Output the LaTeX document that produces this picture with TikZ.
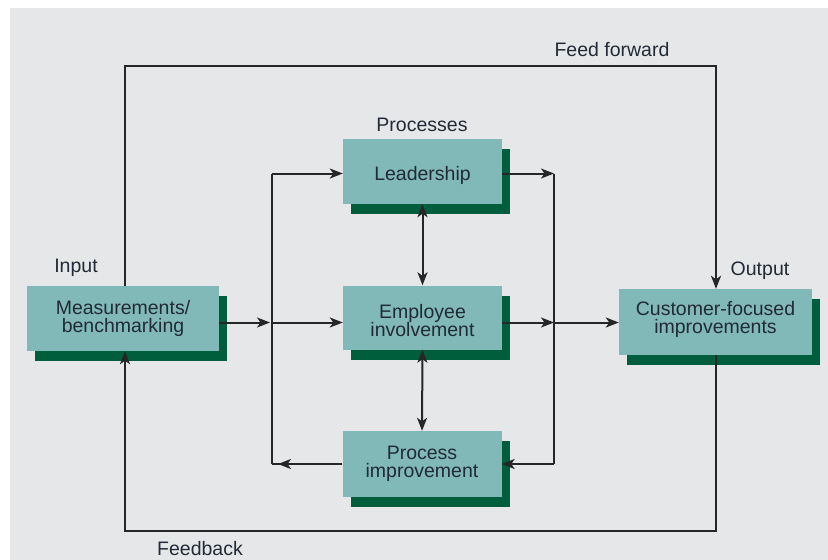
\documentclass[tikz,border=0pt]{standalone}
\usepackage{fontspec}
\setmainfont{Liberation Sans}
\usetikzlibrary{arrows.meta,shadows,calc}
\definecolor{bg}{HTML}{E6E7E9}
\definecolor{boxfill}{HTML}{80B9B7}
\definecolor{shade}{HTML}{005E3C}
\definecolor{txt}{HTML}{222A36}
\definecolor{ln}{HTML}{262626}
\begin{document}
\begin{tikzpicture}[x=1pt,y=-1pt,
  box/.style={fill=boxfill, inner sep=0pt,
    drop shadow={shadow xshift=8pt, shadow yshift=-10pt, fill=shade, opacity=1}},
  btext/.style={text=txt, align=center, inner sep=0pt,
    font=\fontsize{19.5}{18.5}\selectfont},
  lbl/.style={text=txt, font=\fontsize{19.5}{19}\selectfont, inner sep=0pt},
  conn/.style={draw=ln, line width=2pt},
  arr/.style={conn, -{Stealth[length=13pt,width=10pt,inset=3.5pt]}},
  darr/.style={conn, {Stealth[length=13pt,width=10pt,inset=3.5pt]}-{Stealth[length=13pt,width=10pt,inset=3.5pt]}}]
\useasboundingbox (0,0) rectangle (828,560);
\fill[bg] (10,8) rectangle (828,560);
% boxes
\node[box, minimum width=192pt, minimum height=65pt] (meas) at (123,318.5) {};
\node[box, minimum width=159pt, minimum height=65pt] (lead) at (422.5,171.5) {};
\node[box, minimum width=159pt, minimum height=64pt] (emp) at (422.5,317.5) {};
\node[box, minimum width=159pt, minimum height=66pt] (proc) at (422,464) {};
\node[box, minimum width=193pt, minimum height=66pt] (cust) at (715.5,322) {};
% box texts
\node[btext] (meast) at ([yshift=0pt]meas.center) {Measurements/\\benchmarking};
\node[btext] (leadt) at ([yshift=-3.5pt]lead.center) {Leadership};
\node[btext] (empt) at ([yshift=-3pt]emp.center) {Employee\\involvement};
\node[btext] (proct) at ([yshift=0pt]proc.center) {Process\\improvement};
\node[btext] (custt) at ([yshift=2.5pt]cust.center) {Customer-focused\\improvements};
% labels
\node[lbl] (input) at (76,268) {Input};
\node[lbl] (output) at (760,271) {Output};
\node[lbl] (procs) at (422,124.5) {Processes};
\node[lbl] (ff) at (612,49.5) {Feed forward};
\node[lbl] (fb) at (200,548.5) {Feedback};
% coordinates
\coordinate (lb1) at (272,173.5);
\coordinate (lb2) at (272,322.5);
\coordinate (lb3) at (272,464);
\coordinate (lbp) at (278,464);
\coordinate (rb1) at (554,173.5);
\coordinate (rb2) at (554,322.5);
\coordinate (rb3) at (554,464);
\coordinate (fft1) at (125,66);
\coordinate (fft2) at (716,66);
\coordinate (fbb1) at (716,531);
\coordinate (fbb2) at (125,531);
% connectors
\draw[conn] (lb1) -- (lb3);
\draw[conn] (rb1) -- (rb3);
\draw[arr] (lb1) -- (lb1 -| lead.west);
\draw[arr] (lead.east |- rb1) -- (rb1);
\draw[arr] (meas.east |- lb2) -- ([xshift=-2pt]lb2);
\draw[arr] (lb2) -- (lb2 -| emp.west);
\draw[arr] (emp.east |- rb2) -- (rb2);
\draw[arr] (rb2) -- (rb2 -| cust.west);
\draw[arr] (rb3) -- (rb3 -| proc.east);
\draw[conn] (proc.west |- lb3) -- (lb3);
\draw[arr] (proc.west |- lb3) -- (lbp);
\draw[darr] (lead.south) -- (emp.north);
\draw[darr] (emp.south) -- (proc.north);
\draw[arr] (meas.north -| fft1) -- (fft1) -- (fft2) -- (fft2 |- cust.north);
\draw[arr] (cust.south -| fbb1) -- (fbb1) -- (fbb2) -- (fbb2 |- meas.south);
\end{tikzpicture}
\end{document}
